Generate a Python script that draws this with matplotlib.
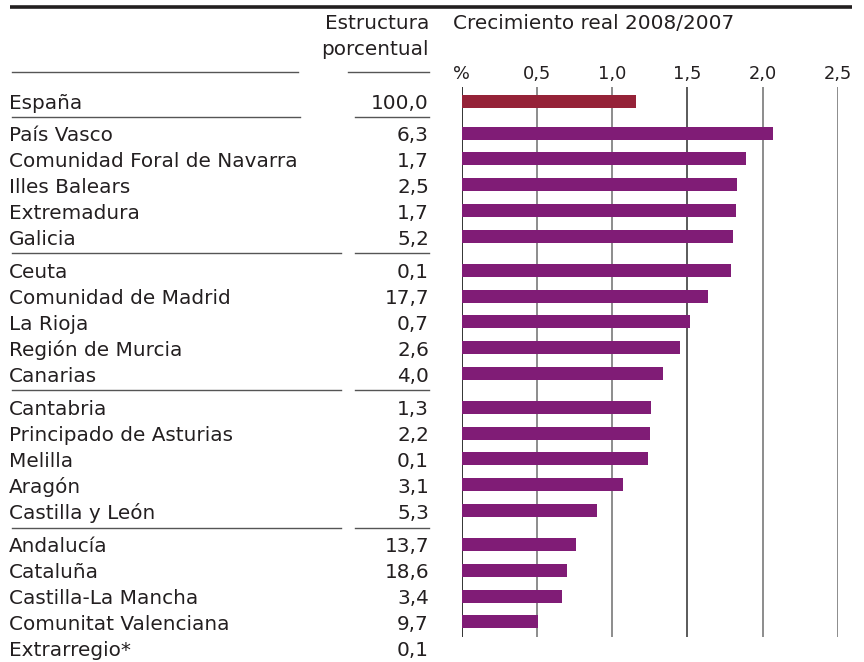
import matplotlib

matplotlib.use("Agg")
from matplotlib import pyplot as plt

plt.rcParams["font.family"] = ["DejaVu Sans"]

# rows, top to bottom, split into the groups drawn between separator lines
spain_label = "España"
spain_share = "100,0"
spain_growth = 1.16

group_labels = [
    ["País Vasco", "Comunidad Foral de Navarra", "Illes Balears", "Extremadura", "Galicia"],
    ["Ceuta", "Comunidad de Madrid", "La Rioja", "Región de Murcia", "Canarias"],
    ["Cantabria", "Principado de Asturias", "Melilla", "Aragón", "Castilla y León"],
    ["Andalucía", "Cataluña", "Castilla-La Mancha", "Comunitat Valenciana", "Extrarregio*"],
]
group_shares = [
    ["6,3", "1,7", "2,5", "1,7", "5,2"],
    ["0,1", "17,7", "0,7", "2,6", "4,0"],
    ["1,3", "2,2", "0,1", "3,1", "5,3"],
    ["13,7", "18,6", "3,4", "9,7", "0,1"],
]
group_growth = [
    [2.07, 1.89, 1.83, 1.82, 1.80],
    [1.79, 1.64, 1.52, 1.45, 1.34],
    [1.26, 1.25, 1.24, 1.07, 0.90],
    [0.76, 0.70, 0.67, 0.51, None],
]
ticks = [0, 0.5, 1.0, 1.5, 2.0, 2.5]
tick_labels = ["%", "0,5", "1,0", "1,5", "2,0", "2,5"]

W, H = 864, 662
text_color = "#231f20"
spain_color = "#952238"
bar_color = "#801c76"
fs = 14.4
tick_fs = 12.8

fig = plt.figure(figsize=(W / 100, H / 100), dpi=100)

# full-figure layer in pixel units for text and rules
bg = fig.add_axes([0, 0, 1, 1])
bg.set_xlim(0, W)
bg.set_ylim(H, 0)
bg.axis("off")

# bar panel: y in the same pixel rows as the background layer
x0, x1 = 461.5, 838.0
y_top, y_bot = 87, 637
ax = fig.add_axes([x0 / W, 1 - y_bot / H, (x1 - x0) / W, (y_bot - y_top) / H])
ax.set_xlim(0, 2.5)
ax.set_ylim(y_bot, y_top)
ax.axis("off")

for t in ticks:
    if t == 0:
        c = "#333333"
    elif t == 1.5:
        c = "#5a5a5a"
    else:
        c = "#8c8c8c"
    ax.axvline(t, color=c, lw=1.4, zorder=1)

# row positions
step, gap = 25.9, 33.5
rows = [(spain_label, spain_share, spain_growth, 101.0, spain_color)]
y = 133.0
seps = [117.0]
for gi, (labs, shares, vals) in enumerate(zip(group_labels, group_shares, group_growth)):
    if gi > 0:
        seps.append(y - gap / 2)
    for lab, sh, v in zip(labs, shares, vals):
        rows.append((lab, sh, v, y, bar_color))
        y += step
    y += gap - step

base = 8.0
for lab, sh, v, yy, col in rows:
    bg.text(9, yy + base, lab, fontsize=fs, color=text_color, va="baseline", ha="left")
    bg.text(429, yy + base, sh, fontsize=fs, color=text_color, va="baseline", ha="right")
    if v is not None:
        ax.barh(yy, v, height=13, color=col, left=0, zorder=2)

# rules
bg.plot([10, 852], [7, 7], color="#231f20", lw=2.6, solid_capstyle="butt")
bg.plot([12, 298], [72, 72], color="#555555", lw=1.0)
bg.plot([348, 429], [72, 72], color="#555555", lw=1.0)
for i, s in enumerate(seps):
    left_end = 300 if i == 0 else 341
    bg.plot([12, left_end], [s, s], color="#555555", lw=1.0)
    bg.plot([355, 429], [s, s], color="#555555", lw=1.0)

# headers
bg.text(429, 29, "Estructura", fontsize=fs, color=text_color, va="baseline", ha="right")
bg.text(429, 55, "porcentual", fontsize=fs, color=text_color, va="baseline", ha="right")
bg.text(453, 29, "Crecimiento real 2008/2007", fontsize=fs, color=text_color,
        va="baseline", ha="left")
for t, lab in zip(ticks, tick_labels):
    px = x0 + (x1 - x0) * t / 2.5
    bg.text(px, 79, lab, fontsize=tick_fs, color=text_color, va="baseline", ha="center")

fig.savefig("out.png", dpi=100)
